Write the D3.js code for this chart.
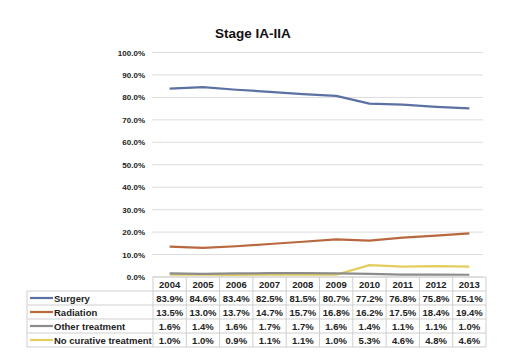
<!DOCTYPE html>
<html>
<head>
<meta charset="utf-8">
<script src="https://cdn.jsdelivr.net/npm/d3@7"></script>
<style>
  body { margin: 0; background: #fff; }
  svg { font-family: "Liberation Sans", Arial, sans-serif; }
</style>
</head>
<body>
<svg id="chart" width="528" height="362"></svg>
<script>
const years = [2004, 2005, 2006, 2007, 2008, 2009, 2010, 2011, 2012, 2013];
const surgery = [83.9, 84.6, 83.4, 82.5, 81.5, 80.7, 77.2, 76.8, 75.8, 75.1];
const radiation = [13.5, 13.0, 13.7, 14.7, 15.7, 16.8, 16.2, 17.5, 18.4, 19.4];
const otherTreatment = [1.6, 1.4, 1.6, 1.7, 1.7, 1.6, 1.4, 1.1, 1.1, 1.0];
const noCurative = [1.0, 1.0, 0.9, 1.1, 1.1, 1.0, 5.3, 4.6, 4.8, 4.6];
const seriesNames = ["Surgery", "Radiation", "Other treatment", "No curative treatment"];
const yTicks = [0, 10, 20, 30, 40, 50, 60, 70, 80, 90, 100];

const series = [
  {name: seriesNames[0], values: surgery, color: "#5b70a3"},
  {name: seriesNames[1], values: radiation, color: "#b8683f"},
  {name: seriesNames[2], values: otherTreatment, color: "#8c8c8c"},
  {name: seriesNames[3], values: noCurative, color: "#e3cd5c"}
];

const svg = d3.select("#chart");

const plot = {left: 153, right: 486, top: 52.5, bottom: 277};
const tableLeft = 27;
const rowH = 14;

const x = d3.scaleBand()
    .domain(years)
    .range([plot.left, plot.right]);

const y = d3.scaleLinear()
    .domain([0, 100])
    .range([plot.bottom, plot.top]);

// title
svg.append("text")
    .attr("x", 253)
    .attr("y", 38)
    .attr("text-anchor", "middle")
    .attr("font-size", "13.5px")
    .attr("font-weight", "bold")
    .attr("fill", "#111")
    .text("Stage IA-IIA");

// gridlines + y labels
svg.append("g")
    .selectAll("line")
    .data(yTicks)
    .enter()
    .append("line")
    .attr("x1", plot.left - 1)
    .attr("x2", plot.right - 3)
    .attr("y1", d => y(d))
    .attr("y2", d => y(d))
    .attr("stroke", "#dcdcdc")
    .attr("stroke-width", 1);

svg.append("g")
    .selectAll("text")
    .data(yTicks)
    .enter()
    .append("text")
    .attr("x", 145)
    .attr("y", d => y(d) + 3)
    .attr("text-anchor", "end")
    .attr("font-size", "8px")
    .attr("font-weight", "bold")
    .attr("fill", "#222")
    .text(d => d.toFixed(1) + "%");

// lines
const line = d3.line()
    .x((d, i) => x(years[i]) + x.bandwidth() / 2)
    .y(d => y(d));

svg.append("g")
    .selectAll("path")
    .data(series.slice().reverse())
    .enter()
    .append("path")
    .attr("d", d => line(d.values))
    .attr("fill", "none")
    .attr("stroke", d => d.color)
    .attr("stroke-width", 2.2)
    .attr("stroke-linejoin", "round");

// data table
const table = svg.append("g");
const gridColor = "#cfcfcf";
const tableTop = plot.bottom;
const tableBottom = tableTop + rowH * 5;

// horizontal lines
d3.range(6).forEach(i => {
  table.append("line")
      .attr("x1", i === 0 || i === 1 ? (i === 0 ? plot.left : tableLeft) : tableLeft)
      .attr("x2", plot.right)
      .attr("y1", tableTop + i * rowH)
      .attr("y2", tableTop + i * rowH)
      .attr("stroke", gridColor);
});

// vertical lines
years.forEach(yr => {
  table.append("line")
      .attr("x1", x(yr)).attr("x2", x(yr))
      .attr("y1", tableTop).attr("y2", tableBottom)
      .attr("stroke", gridColor);
});
table.append("line")
    .attr("x1", plot.right).attr("x2", plot.right)
    .attr("y1", tableTop).attr("y2", tableBottom)
    .attr("stroke", gridColor);
table.append("line")
    .attr("x1", tableLeft).attr("x2", tableLeft)
    .attr("y1", tableTop + rowH).attr("y2", tableBottom)
    .attr("stroke", gridColor);

// header years
table.selectAll("text.year")
    .data(years)
    .enter()
    .append("text")
    .attr("class", "year")
    .attr("x", d => x(d) + x.bandwidth() / 2)
    .attr("y", tableTop + 10.5)
    .attr("text-anchor", "middle")
    .attr("font-size", "9.5px")
    .attr("font-weight", "bold")
    .attr("fill", "#222")
    .text(d => d);

// rows
series.forEach((s, r) => {
  const rowY = tableTop + rowH * (r + 1);
  table.append("line")
      .attr("x1", 30).attr("x2", 53)
      .attr("y1", rowY + rowH / 2).attr("y2", rowY + rowH / 2)
      .attr("stroke", s.color)
      .attr("stroke-width", 2.2);
  table.append("text")
      .attr("x", 54)
      .attr("y", rowY + 10.5)
      .attr("font-size", "9.5px")
      .attr("font-weight", "bold")
      .attr("fill", "#222")
      .text(s.name);
  table.selectAll(null)
      .data(s.values)
      .enter()
      .append("text")
      .attr("x", (d, i) => x(years[i]) + x.bandwidth() / 2)
      .attr("y", rowY + 10.5)
      .attr("text-anchor", "middle")
      .attr("font-size", "9.5px")
      .attr("font-weight", "bold")
      .attr("fill", "#222")
      .text(d => d.toFixed(1) + "%");
});
</script>
</body>
</html>
